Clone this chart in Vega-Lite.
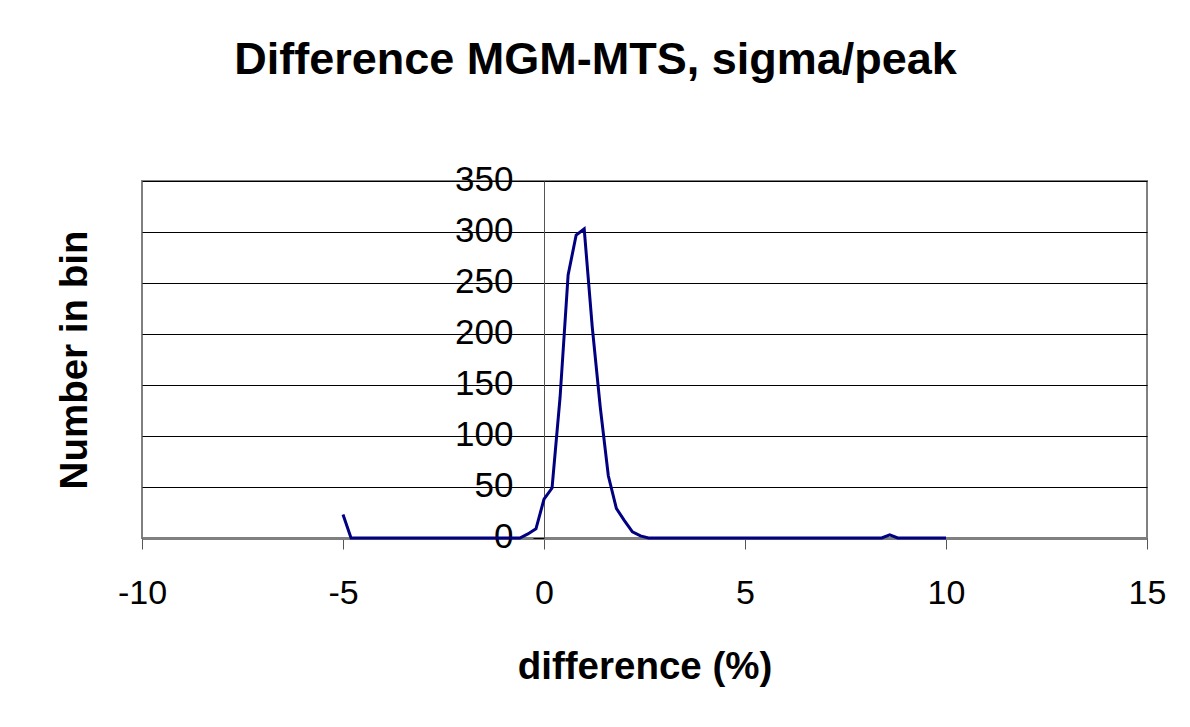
{
  "$schema": "https://vega.github.io/schema/vega-lite/v6.json",
  "autosize": {"type": "none"},
  "padding": {"left": 142, "top": 181, "right": 43, "bottom": 189},
  "width": 1005,
  "height": 357,
  "background": "white",
  "title": {
    "text": "Difference MGM-MTS, sigma/peak",
    "font": "Liberation Sans",
    "fontSize": 45,
    "fontWeight": "bold",
    "color": "black",
    "anchor": "middle",
    "dx": -49,
    "baseline": "alphabetic",
    "offset": 43
  },
  "config": {
    "view": {"stroke": "#808080", "strokeWidth": 2},
    "axis": {"labelFont": "Liberation Sans", "titleFont": "Liberation Sans", "labelColor": "black", "titleColor": "black"}
  },
  "data": {
    "values": [
      {"diff": -5.0, "count": 23},
      {"diff": -4.8, "count": 0},
      {"diff": -4.6, "count": 0},
      {"diff": -4.4, "count": 0},
      {"diff": -4.2, "count": 0},
      {"diff": -4.0, "count": 0},
      {"diff": -3.8, "count": 0},
      {"diff": -3.6, "count": 0},
      {"diff": -3.4, "count": 0},
      {"diff": -3.2, "count": 0},
      {"diff": -3.0, "count": 0},
      {"diff": -2.8, "count": 0},
      {"diff": -2.6, "count": 0},
      {"diff": -2.4, "count": 0},
      {"diff": -2.2, "count": 0},
      {"diff": -2.0, "count": 0},
      {"diff": -1.8, "count": 0},
      {"diff": -1.6, "count": 0},
      {"diff": -1.4, "count": 0},
      {"diff": -1.2, "count": 0},
      {"diff": -1.0, "count": 0},
      {"diff": -0.8, "count": 0},
      {"diff": -0.6, "count": 0},
      {"diff": -0.4, "count": 4},
      {"diff": -0.2, "count": 9},
      {"diff": 0.0, "count": 38},
      {"diff": 0.2, "count": 49},
      {"diff": 0.4, "count": 138},
      {"diff": 0.6, "count": 258},
      {"diff": 0.8, "count": 297},
      {"diff": 1.0, "count": 303},
      {"diff": 1.2, "count": 207},
      {"diff": 1.4, "count": 128},
      {"diff": 1.6, "count": 61},
      {"diff": 1.8, "count": 29},
      {"diff": 2.0, "count": 17},
      {"diff": 2.2, "count": 6},
      {"diff": 2.4, "count": 2},
      {"diff": 2.6, "count": 0},
      {"diff": 2.8, "count": 0},
      {"diff": 3.0, "count": 0},
      {"diff": 3.2, "count": 0},
      {"diff": 3.4, "count": 0},
      {"diff": 3.6, "count": 0},
      {"diff": 3.8, "count": 0},
      {"diff": 4.0, "count": 0},
      {"diff": 4.2, "count": 0},
      {"diff": 4.4, "count": 0},
      {"diff": 4.6, "count": 0},
      {"diff": 4.8, "count": 0},
      {"diff": 5.0, "count": 0},
      {"diff": 5.2, "count": 0},
      {"diff": 5.4, "count": 0},
      {"diff": 5.6, "count": 0},
      {"diff": 5.8, "count": 0},
      {"diff": 6.0, "count": 0},
      {"diff": 6.2, "count": 0},
      {"diff": 6.4, "count": 0},
      {"diff": 6.6, "count": 0},
      {"diff": 6.8, "count": 0},
      {"diff": 7.0, "count": 0},
      {"diff": 7.2, "count": 0},
      {"diff": 7.4, "count": 0},
      {"diff": 7.6, "count": 0},
      {"diff": 7.8, "count": 0},
      {"diff": 8.0, "count": 0},
      {"diff": 8.2, "count": 0},
      {"diff": 8.4, "count": 0},
      {"diff": 8.6, "count": 3},
      {"diff": 8.8, "count": 0},
      {"diff": 9.0, "count": 0},
      {"diff": 9.2, "count": 0},
      {"diff": 9.4, "count": 0},
      {"diff": 9.6, "count": 0},
      {"diff": 9.8, "count": 0},
      {"diff": 10.0, "count": 0}
    ]
  },
  "mark": {"type": "line", "color": "#000080", "strokeWidth": 3, "interpolate": "linear"},
  "encoding": {
    "x": {
      "field": "diff",
      "type": "quantitative",
      "scale": {"domain": [-10, 15], "nice": false, "zero": false},
      "axis": {
        "title": "difference (%)",
        "titleFontSize": 38.5,
        "titleFontWeight": "bold",
        "titleBaseline": "alphabetic",
        "titleY": 140,
        "values": [-10, -5, 0, 5, 10, 15],
        "labelExpr": "datum.value < 0 ? '-' + abs(datum.value) : '' + datum.value",
        "labelFontSize": 34,
        "labelPadding": 27,
        "labelFlush": false,
        "labelOverlap": false,
        "grid": false,
        "domainColor": "#808080",
        "domainWidth": 3,
        "tickColor": "#555555",
        "tickWidth": 1,
        "tickSize": 11
      }
    },
    "y": {
      "field": "count",
      "type": "quantitative",
      "scale": {"domain": [0, 350], "nice": false},
      "axis": {
        "title": "Number in bin",
        "titleFontSize": 38.5,
        "titleFontWeight": "bold",
        "titleAngle": -90,
        "titleX": -470,
        "titleY": 178.5,
        "titleAlign": "center",
        "titleBaseline": "middle",
        "offset": -402,
        "values": [0, 50, 100, 150, 200, 250, 300, 350],
        "labelFontSize": 35,
        "labelPadding": 20,
        "labelAlign": "right",
        "labelBaseline": "middle",
        "labelOffset": -2,
        "labelFlush": false,
        "labelOverlap": false,
        "grid": true,
        "gridColor": "black",
        "gridWidth": 1,
        "gridOpacity": 1,
        "domainColor": "#555555",
        "domainWidth": 1,
        "tickColor": "black",
        "tickWidth": 1,
        "tickSize": 11
      }
    }
  }
}
